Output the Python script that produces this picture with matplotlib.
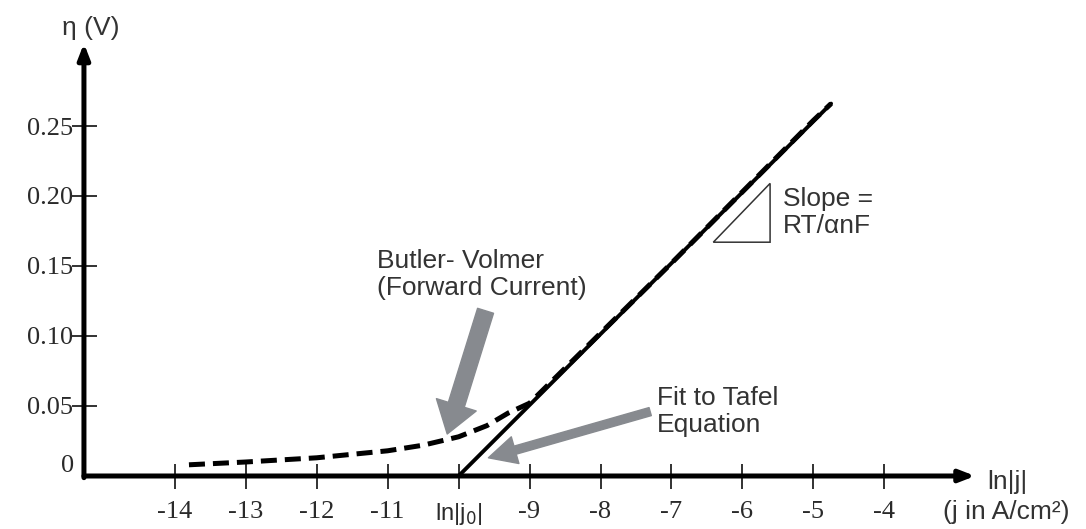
import matplotlib
matplotlib.use("Agg")
import matplotlib.pyplot as plt
from matplotlib.patches import Polygon

# ---- data ----
x_ticks = [-14, -13, -12, -11, -10, -9, -8, -7, -6, -5, -4]
x_tick_labels = ["-14", "-13", "-12", "-11", "ln|j$_0$|", "-9", "-8", "-7", "-6", "-5", "-4"]
y_ticks = [0, 0.05, 0.10, 0.15, 0.20, 0.25]
y_tick_labels = ["0", "0.05", "0.10", "0.15", "0.20", "0.25"]

# Butler-Volmer (forward current) curve, dashed
bv_x = [-13.8, -13.0, -12.0, -11.0, -10.5, -10.0, -9.6, -9.3, -9.0, -8.0, -7.0, -6.0, -5.0, -4.75]
bv_y = [0.008, 0.010, 0.013, 0.018, 0.022, 0.028, 0.036, 0.045, 0.052, 0.102, 0.152, 0.203, 0.254, 0.266]

# Tafel fit line, solid
tafel_x = [-10.0, -4.75]
tafel_y = [0.0, 0.266]

# slope triangle
tri_x = [-6.41, -5.61, -5.61]
tri_y = [0.167, 0.167, 0.209]

fig = plt.figure(figsize=(10.86, 5.29), dpi=100)
ax = fig.add_axes([0.0773, 0.1002, 0.835, 0.8204])
ax.set_xlim(-15.28, -2.5)
ax.set_ylim(0, 0.31)
for s in ax.spines.values():
    s.set_visible(False)

# axes with arrows
ax.annotate("", xy=(-2.72, 0), xytext=(-15.28, 0),
            arrowprops=dict(arrowstyle="-|>,head_length=0.9,head_width=0.35", lw=3.6,
                            color="black", shrinkA=0, shrinkB=0),
            annotation_clip=False)
ax.annotate("", xy=(-15.28, 0.309), xytext=(-15.28, -0.0012),
            arrowprops=dict(arrowstyle="-|>,head_length=0.9,head_width=0.35", lw=3.6,
                            color="black", shrinkA=0, shrinkB=0),
            annotation_clip=False)

# ticks
serif_fs = 19
sans_fs = 19
ax.set_xticks(x_ticks)
ax.set_xticklabels(x_tick_labels)
ax.set_yticks(y_ticks[1:])
ax.set_yticklabels(y_tick_labels[1:])
ax.tick_params(axis="both", direction="inout", length=18, width=1.3, color="#222222",
               labelcolor="#2a2a2a", labelsize=serif_fs)
ax.tick_params(axis="x", pad=9)
ax.tick_params(axis="y", pad=-1)
for lab in ax.get_xticklabels() + ax.get_yticklabels():
    lab.set_fontfamily("Liberation Serif")
ax.get_xticklabels()[4].set_fontfamily("Liberation Sans")
ax.get_xticklabels()[4].set_fontsize(17)
# the "0" label sits a little above the x axis
ax.annotate(y_tick_labels[0], xy=(0, y_ticks[0]), xycoords=("axes fraction", "data"),
            xytext=(-7, 7), textcoords="offset points", ha="right", va="center",
            family="Liberation Serif", fontsize=serif_fs, color="#2a2a2a",
            annotation_clip=False)

# curves
ax.plot(tafel_x, tafel_y, color="black", lw=2.8, solid_capstyle="round")
ax.plot(bv_x, bv_y, color="black", lw=3.6, ls=(0, (3.2, 1.6)), solid_capstyle="butt")

# slope triangle
ax.add_patch(Polygon(list(zip(tri_x, tri_y)), closed=True, fill=False, edgecolor="#333333", lw=1.1))

# gray arrows
ax.annotate("", xy=(-10.16, 0.030), xytext=(-9.62, 0.118),
            arrowprops=dict(arrowstyle="simple,head_width=1.5,head_length=1.1,tail_width=0.6",
                            color="#878a8f", mutation_scale=20, shrinkA=0, shrinkB=0))
ax.annotate("", xy=(-9.58, 0.013), xytext=(-7.30, 0.046),
            arrowprops=dict(arrowstyle="simple,head_width=1.0,head_length=1.0,tail_width=0.3",
                            color="#878a8f", mutation_scale=20, shrinkA=0, shrinkB=0))

# texts
tf = dict(family="Liberation Sans", fontsize=sans_fs, color="#333333")
ax.text(-11.15, 0.144, "Butler- Volmer\n(Forward Current)", ha="left", va="center",
        linespacing=1.15, **tf)
ax.text(-7.21, 0.046, "Fit to Tafel\nEquation", ha="left", va="center", linespacing=1.15, **tf)
ax.text(-5.43, 0.188, "Slope =\nRT/\u03b1nF", ha="left", va="center", linespacing=1.15, **tf)
ax.text(-15.18, 0.320, "\u03b7 (V)", ha="center", va="center", clip_on=False, **tf)
ax.text(-2.55, -0.004, "ln|j|", ha="left", va="center", clip_on=False, **tf)
ax.text(-3.18, -0.026, "(j in A/cm\u00b2)", ha="left", va="center", clip_on=False, **tf)

fig.savefig("out.png", dpi=100)
